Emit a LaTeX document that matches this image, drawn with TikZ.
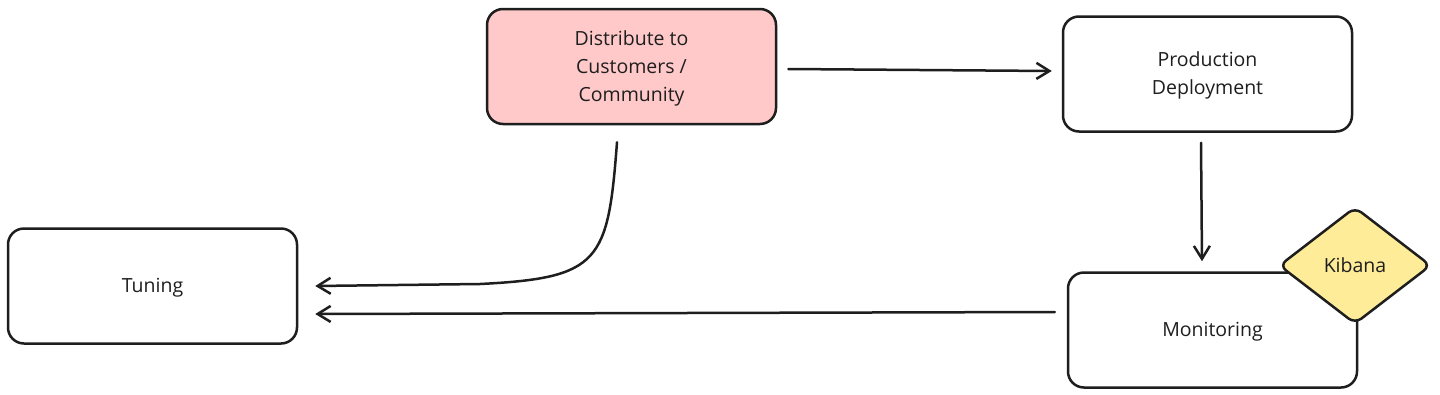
\documentclass[tikz,border=0pt]{standalone}
\usepackage{fontspec}
\setmainfont{Open Sans}
\usetikzlibrary{shapes.geometric,arrows.meta}
\definecolor{ink}{HTML}{1E1E1E}
\definecolor{pinkfill}{HTML}{FFC9C9}
\definecolor{yellowfill}{HTML}{FFEC99}
\begin{document}
\begin{tikzpicture}[x=1pt,y=-1pt,
  box/.style={draw=ink,line width=2.5pt,rounded corners=16pt,minimum width=289pt,minimum height=115pt,align=center,font=\fontsize{19.5}{28}\selectfont,text=ink,text depth=1pt},
  dia/.style={draw=ink,line width=2.5pt,diamond,rounded corners=8pt,minimum width=152pt,minimum height=117pt,inner sep=0pt,fill=yellowfill,font=\fontsize{19.5}{28}\selectfont,text=ink},
  arr/.style={draw=ink,line width=2.5pt,line cap=round,-{Straight Barb[length=13pt,width=16pt,line width=2.5pt]}}]
\useasboundingbox[fill=white] (0,0) rectangle (1440,394);
\node[box,fill=pinkfill] (dist) at (631.5,66.5) {Distribute to\\Customers /\\Community};
\node[box] (prod) at (1207.5,74) {Production\\Deployment};
\node[box] (tun) at (152.5,286) {Tuning};
\node[box] (mon) at (1212.5,330) {Monitoring};
\node[dia] (kib) at (1355,265.5) {Kibana};
\draw[arr] ([shift={(11,2.5)}]dist.east) -- ([shift={(-10,-3)}]prod.west);
\draw[arr] ([shift={(-6.5,10)}]prod.south) -- ([shift={(-10.5,-10)}]mon.north);
\draw[arr] ([shift={(-14.5,17)}]dist.south) .. controls (608,262) and (600,278) .. (480,284) -- ([shift={(17,0)}]tun.east);
\draw[arr] ([shift={(-12,-18)}]mon.west) -- ([shift={(17,28)}]tun.east);
\end{tikzpicture}
\end{document}
